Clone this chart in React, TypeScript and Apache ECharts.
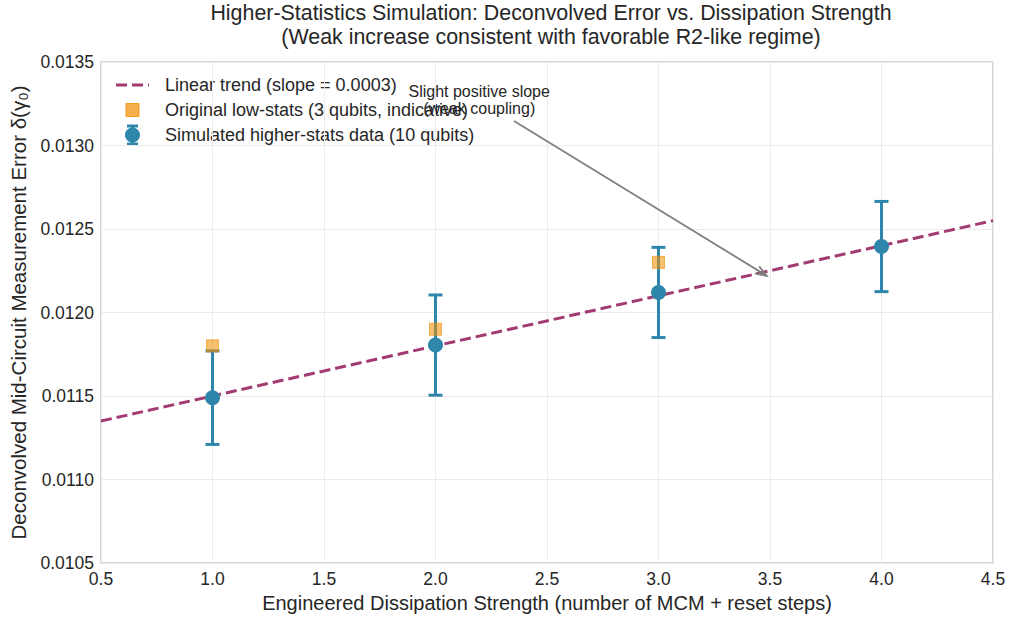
import React, { useEffect, useRef } from "react";
import * as echarts from "echarts";

const strengths = [1.0, 2.0, 3.0, 4.0];
const simulatedMean = [0.01149, 0.011805, 0.01212, 0.012395];
const simulatedErr = [0.00028, 0.0003, 0.00027, 0.00027];
const originalStrengths = [1.0, 2.0, 3.0];
const originalValues = [0.0118, 0.0119, 0.0123];
const trendX = [0.5, 4.5];
const trendY = [0.01135, 0.01255];
const annotationText = ["Slight positive slope", "(weak coupling)"];
const annotationTextPos = [2.196, 0.01327];
const annotationArrowFrom = [2.352, 0.013147];
const annotationArrowTo = [3.485, 0.01222];

const BLUE = "#2E86AB";
const MAGENTA = "#A23B72";
const TEXT = "#262626";
const FONT = "Liberation Sans, Arial, sans-serif";

export default function App() {
  const ref = useRef<HTMLDivElement>(null);
  useEffect(() => {
    if (!ref.current) return;
    const chart = echarts.init(ref.current, null, { renderer: "svg" });
    const legendX = 116;
    const legendTextX = 165;
    const ly = [85, 110, 135];
    chart.setOption({
      animation: false,
      backgroundColor: "#ffffff",
      textStyle: { fontFamily: FONT },
      title: {
        text: "Higher-Statistics Simulation: Deconvolved Error vs. Dissipation Strength\n(Weak increase consistent with favorable R2-like regime)",
        left: 546,
        textAlign: "center",
        top: 0,
        padding: [1, 5, 5, 5],
        textStyle: { fontFamily: FONT, fontSize: 21.4, fontWeight: "normal", color: TEXT, lineHeight: 24 },
      },
      grid: { left: 99, right: 17, top: 62, bottom: 58, show: true, borderColor: "#c8c8c8", borderWidth: 1.5, backgroundColor: "transparent" },
      xAxis: {
        type: "value",
        min: 0.5,
        max: 4.5,
        interval: 0.5,
        name: "Engineered Dissipation Strength (number of MCM + reset steps)",
        nameLocation: "middle",
        nameGap: 30,
        nameTextStyle: { fontFamily: FONT, fontSize: 20, color: TEXT },
        axisLine: { show: false },
        axisTick: { show: false },
        axisLabel: { formatter: (v: number) => v.toFixed(1), fontFamily: FONT, fontSize: 17.5, color: TEXT, margin: 7 },
        splitLine: { show: true, lineStyle: { color: "#ebebeb", width: 1 } },
      },
      yAxis: {
        type: "value",
        min: 0.0105,
        max: 0.0135,
        interval: 0.0005,
        name: "Deconvolved Mid-Circuit Measurement Error δ(γ₀)",
        nameLocation: "middle",
        nameGap: 72,
        nameTextStyle: { fontFamily: FONT, fontSize: 20.5, color: TEXT },
        axisLine: { show: false },
        axisTick: { show: false },
        axisLabel: { formatter: (v: number) => v.toFixed(4), fontFamily: FONT, fontSize: 17.5, color: TEXT, margin: 7 },
        splitLine: { show: true, lineStyle: { color: "#ebebeb", width: 1 } },
      },
      series: [
        {
          name: "Linear trend (slope = 0.0003)",
          type: "line",
          data: trendX.map((x, i) => [x, trendY[i]]),
          showSymbol: false,
          symbol: "none",
          lineStyle: { color: MAGENTA, width: 3, type: [11, 5] },
          z: 2,
        },
        {
          name: "errorbars",
          type: "custom",
          data: strengths.map((x, i) => [x, simulatedMean[i], simulatedErr[i]]),
          renderItem: (params: any, api: any) => {
            const x = api.value(0);
            const y = api.value(1);
            const e = api.value(2);
            const top = api.coord([x, y + e]);
            const bot = api.coord([x, y - e]);
            const hw = 7;
            const st = { stroke: BLUE, lineWidth: 3 };
            return {
              type: "group",
              children: [
                { type: "line", shape: { x1: top[0], y1: top[1], x2: bot[0], y2: bot[1] }, style: st },
                { type: "line", shape: { x1: top[0] - hw, y1: top[1], x2: top[0] + hw, y2: top[1] }, style: st },
                { type: "line", shape: { x1: bot[0] - hw, y1: bot[1], x2: bot[0] + hw, y2: bot[1] }, style: st },
              ],
            };
          },
          z: 3,
        },
        {
          name: "Simulated higher-stats data (10 qubits)",
          type: "scatter",
          data: strengths.map((x, i) => [x, simulatedMean[i]]),
          symbol: "circle",
          symbolSize: 15,
          itemStyle: { color: BLUE, opacity: 1 },
          z: 4,
        },
        {
          name: "Original low-stats (3 qubits, indicative)",
          type: "scatter",
          data: originalStrengths.map((x, i) => [x, originalValues[i]]),
          symbol: "rect",
          symbolSize: 12,
          itemStyle: { color: "rgba(241,143,1,0.7)", borderColor: "rgba(241,143,1,0.8)", borderWidth: 1 },
          z: 5,
        },
        {
          name: "annotation",
          type: "custom",
          data: [[annotationTextPos[0], annotationTextPos[1], annotationArrowFrom[0], annotationArrowFrom[1], annotationArrowTo[0], annotationArrowTo[1]]],
          renderItem: (params: any, api: any) => {
            const t = api.coord([api.value(0), api.value(1)]);
            const a = api.coord([api.value(2), api.value(3)]);
            const b = api.coord([api.value(4), api.value(5)]);
            const ang = Math.atan2(b[1] - a[1], b[0] - a[0]);
            const hl = 12;
            const hwid = 0.35;
            const p1 = [b[0] - hl * Math.cos(ang - hwid), b[1] - hl * Math.sin(ang - hwid)];
            const p2 = [b[0] - hl * Math.cos(ang + hwid), b[1] - hl * Math.sin(ang + hwid)];
            const st = { stroke: "#808080", lineWidth: 1.8, fill: "none" };
            return {
              type: "group",
              children: [
                { type: "line", shape: { x1: a[0], y1: a[1], x2: b[0], y2: b[1] }, style: st },
                { type: "polyline", shape: { points: [p1, b, p2] }, style: st },
                {
                  type: "text",
                  x: t[0],
                  y: t[1],
                  style: {
                    text: annotationText.join("\n"),
                    fontFamily: FONT,
                    fontSize: 16,
                    lineHeight: 17,
                    fill: TEXT,
                    align: "center",
                    verticalAlign: "middle",
                  },
                },
              ],
            };
          },
          z: 6,
        },
      ],
      graphic: [
        { type: "line", shape: { x1: legendX, y1: ly[0], x2: legendX + 33, y2: ly[0] }, style: { stroke: MAGENTA, lineWidth: 3, lineDash: [11, 5] } },
        { type: "rect", shape: { x: legendX + 10, y: ly[1] - 6.5, width: 13, height: 13 }, style: { fill: "rgba(241,143,1,0.7)", stroke: "rgba(241,143,1,0.8)", lineWidth: 1 } },
        { type: "line", shape: { x1: legendX + 16.5, y1: ly[2] - 10, x2: legendX + 16.5, y2: ly[2] + 10 }, style: { stroke: BLUE, lineWidth: 3 } },
        { type: "line", shape: { x1: legendX + 11, y1: ly[2] - 9, x2: legendX + 22, y2: ly[2] - 9 }, style: { stroke: BLUE, lineWidth: 3 } },
        { type: "line", shape: { x1: legendX + 11, y1: ly[2] + 9, x2: legendX + 22, y2: ly[2] + 9 }, style: { stroke: BLUE, lineWidth: 3 } },
        { type: "circle", shape: { cx: legendX + 16.5, cy: ly[2], r: 7.5 }, style: { fill: BLUE } },
        { type: "text", x: legendTextX, y: ly[0], style: { text: "Linear trend (slope = 0.0003)", fontFamily: FONT, fontSize: 18, fill: TEXT, verticalAlign: "middle" } },
        { type: "text", x: legendTextX, y: ly[1], style: { text: "Original low-stats (3 qubits, indicative)", fontFamily: FONT, fontSize: 18, fill: TEXT, verticalAlign: "middle" } },
        { type: "text", x: legendTextX, y: ly[2], style: { text: "Simulated higher-stats data (10 qubits)", fontFamily: FONT, fontSize: 18, fill: TEXT, verticalAlign: "middle" } },
      ],
    });
    return () => chart.dispose();
  }, []);
  return <div ref={ref} style={{ width: 1010, height: 621, position: "fixed", left: 0, top: 0 }} />;
}
